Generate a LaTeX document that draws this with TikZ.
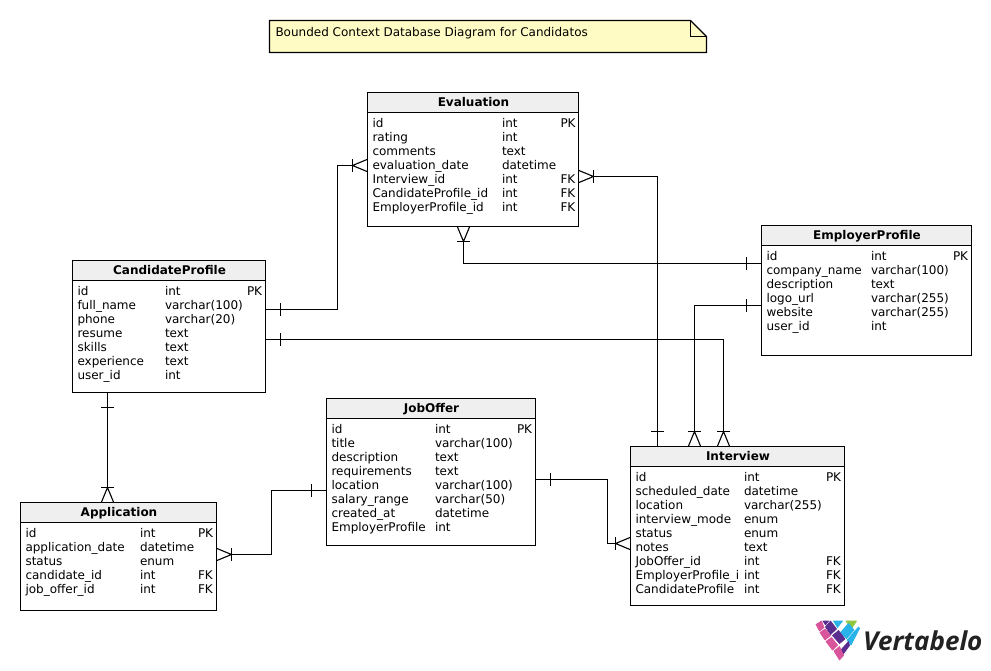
\documentclass[tikz,border=0pt]{standalone}
\usepackage{fontspec}
\setmainfont{DejaVu Sans}
\newfontfamily\logofont{Open Sans}
\usetikzlibrary{calc}
\definecolor{headfill}{HTML}{EFEFEF}
\definecolor{notefill}{HTML}{FFFBC4}
\definecolor{logopink}{HTML}{D8559B}
\definecolor{logopurple}{HTML}{5B2D8E}
\definecolor{logocyan}{HTML}{28B4E8}
\definecolor{logogreen}{HTML}{8FC73E}
\definecolor{logotext}{HTML}{222222}
\tikzset{
  conn/.style={draw=black,line width=1.1pt},
  tbody/.style={draw=black,fill=white,line width=1.1pt,anchor=north west,inner sep=0pt,outer sep=0pt},
  thead/.style={draw=black,fill=headfill,line width=1.1pt,anchor=north west,inner sep=0pt,outer sep=0pt,minimum height=20pt,text height=10pt,text depth=2pt,font=\fontsize{12}{14}\selectfont\bfseries},
  coltext/.style={anchor=north west,inner sep=0pt,outer sep=0pt,align=left,font=\fontsize{12}{14}\selectfont},
  logocell/.style={fill=#1,draw=#1,line width=0.7pt,line join=round}
}
% table: name, x, y, width, height, title
\newcommand\tbl[6]{%
  \node[tbody,minimum width=#4pt,minimum height=#5pt] (#1) at (#2,#3) {};
  \node[thead,minimum width=#4pt] (#1-head) at (#1.north west) {\hspace*{1pt}#6};
}
% column of a table: table name, column key, x offset, text
\newcommand\col[4]{%
  \node[coltext] (#1-#2) at ([shift={(#3,24.7)}]#1.north west) {\strut #4};
}
% crow's foot: edge point, outward direction dx, dy
\newcommand\crow[3]{%
  \draw[conn] ($(#1)+(6.2*#3,6.2*#2)$) -- ($(#1)+(15*#2,15*#3)$) -- ($(#1)-(6.2*#3,6.2*#2)$);
  \draw[conn] ($(#1)+(15*#2,15*#3)+(6.2*#3,6.2*#2)$) -- ($(#1)+(15*#2,15*#3)-(6.2*#3,6.2*#2)$);
}
% single bar: edge point, outward direction dx, dy
\newcommand\onebar[3]{%
  \draw[conn] ($(#1)+(15*#2,15*#3)+(6.2*#3,6.2*#2)$) -- ($(#1)+(15*#2,15*#3)-(6.2*#3,6.2*#2)$);
}
\begin{document}
\begin{tikzpicture}[x=1pt,y=-1pt]
\useasboundingbox (0,0) rectangle (991,670);
\fill[white] (0,0) rectangle (991,670);

% note
\draw[fill=notefill,line width=1.1pt] (269.5,20.5) -- (690.5,20.5) -- (706.5,36.5) -- (706.5,52.5) -- (269.5,52.5) -- cycle;
\draw[line width=1.1pt] (690.5,20.5) -- (690.5,36.5) -- (706.5,36.5);
\node[coltext,anchor=base west] (note) at (275.5,36.5) {Bounded Context Database Diagram for Candidatos};

% tables
\tbl{eval}{367.5}{92.5}{211}{134}{Evaluation}
\col{eval}{a}{5}{id\\rating\\comments\\evaluation\_date\\Interview\_id\\CandidateProfile\_id\\EmployerProfile\_id}
\col{eval}{b}{134.5}{int\\int\\text\\datetime\\int\\int\\int}
\col{eval}{c}{193}{PK\\~\\~\\~\\FK\\FK\\FK}

\tbl{cand}{72.5}{260.5}{193}{132}{CandidateProfile}
\col{cand}{a}{5}{id\\full\_name\\phone\\resume\\skills\\experience\\user\_id}
\col{cand}{b}{92.5}{int\\varchar(100)\\varchar(20)\\text\\text\\text\\int}
\col{cand}{c}{174.5}{PK}

\tbl{empl}{761.5}{225.5}{210}{130}{EmployerProfile}
\col{empl}{a}{5}{id\\company\_name\\description\\logo\_url\\website\\user\_id}
\col{empl}{b}{109.5}{int\\varchar(100)\\text\\varchar(255)\\varchar(255)\\int}
\col{empl}{c}{191.5}{PK}

\tbl{job}{326.5}{398.5}{209}{147}{JobOffer}
\col{job}{a}{5}{id\\title\\description\\requirements\\location\\salary\_range\\created\_at\\EmployerProfile}
\col{job}{b}{108.5}{int\\varchar(100)\\text\\text\\varchar(100)\\varchar(50)\\datetime\\int}
\col{job}{c}{190.5}{PK}

\tbl{intv}{630.5}{446.5}{214}{159}{Interview}
\col{intv}{a}{5}{id\\scheduled\_date\\location\\interview\_mode\\status\\notes\\JobOffer\_id\\EmployerProfile\_i\\CandidateProfile}
\col{intv}{b}{113.5}{int\\datetime\\varchar(255)\\enum\\enum\\text\\int\\int\\int}
\col{intv}{c}{195.5}{PK\\~\\~\\~\\~\\~\\FK\\FK\\FK}

\tbl{appl}{20.5}{502.5}{196}{108}{Application}
\col{appl}{a}{5}{id\\application\_date\\status\\candidate\_id\\job\_offer\_id}
\col{appl}{b}{119.5}{int\\datetime\\enum\\int\\int}
\col{appl}{c}{177.5}{PK\\~\\~\\FK\\FK}

% connectors
\coordinate (c1s) at (cand.east |- 0,309.5);
\coordinate (c1e) at (eval.west |- 0,165.5);
\draw[conn] (c1s) -- (337.5,309.5) -- (337.5,165.5) -- ($(c1e)+(-15,0)$);
\onebar{c1s}{1}{0}\crow{c1e}{-1}{0}

\coordinate (c2s) at (eval.east |- 0,176.5);
\coordinate (c2e) at (intv.north -| 657.5,0);
\draw[conn] ($(c2s)+(15,0)$) -- (657.5,176.5) -- (c2e);
\crow{c2s}{1}{0}\onebar{c2e}{0}{-1}

\coordinate (c3s) at (eval.south -| 463.5,0);
\coordinate (c3e) at (empl.west |- 0,263.5);
\draw[conn] ($(c3s)+(0,15)$) -- (463.5,263.5) -- (c3e);
\crow{c3s}{0}{1}\onebar{c3e}{-1}{0}

\coordinate (c4s) at (empl.west |- 0,305.5);
\coordinate (c4e) at (intv.north -| 694.5,0);
\draw[conn] (c4s) -- (694.5,305.5) -- ($(c4e)+(0,-15)$);
\onebar{c4s}{-1}{0}\crow{c4e}{0}{-1}

\coordinate (c5s) at (cand.east |- 0,339.5);
\coordinate (c5e) at (intv.north -| 723.5,0);
\draw[conn] (c5s) -- (723.5,339.5) -- ($(c5e)+(0,-15)$);
\onebar{c5s}{1}{0}\crow{c5e}{0}{-1}

\coordinate (c6s) at (cand.south -| 107.5,0);
\coordinate (c6e) at (appl.north -| 107.5,0);
\draw[conn] (c6s) -- ($(c6e)+(0,-15)$);
\onebar{c6s}{0}{1}\crow{c6e}{0}{-1}

\coordinate (c7s) at (job.west |- 0,490.5);
\coordinate (c7e) at (appl.east |- 0,554.5);
\draw[conn] (c7s) -- (271.5,490.5) -- (271.5,554.5) -- ($(c7e)+(15,0)$);
\onebar{c7s}{-1}{0}\crow{c7e}{1}{0}

\coordinate (c8s) at (job.east |- 0,479.5);
\coordinate (c8e) at (intv.west |- 0,543.5);
\draw[conn] (c8s) -- (607.5,479.5) -- (607.5,543.5) -- ($(c8e)+(-15,0)$);
\onebar{c8s}{1}{0}\crow{c8e}{-1}{0}

% logo
\path[logocell=logopink] (816,624.5) -- (821.5,621) -- (824,627.5) -- (819.5,631) -- cycle;
\path[logocell=logopurple] (823,621) -- (828.5,621) -- (825.5,625) -- cycle;
\path[logocell=logopurple] (825.5,627) -- (830.5,621) -- (836.5,629) -- (830.5,634.5) -- cycle;
\path[logocell=logocyan] (833.5,621) -- (842.5,621) -- (837.5,627.5) -- cycle;
\path[logocell=logogreen] (846,621) -- (856.5,621) -- (851.5,628.5) -- cycle;
\path[logocell=logocyan] (840.5,632.5) -- (848.5,623.5) -- (854,630) -- (846.5,638.5) -- cycle;
\path[logocell=logopink] (820,632.5) -- (825,629) -- (830.5,635.5) -- (825,640) -- cycle;
\path[logocell=logopurple] (832.5,635.5) -- (838.5,630.5) -- (845,639) -- (839.5,643.5) -- cycle;
\path[logocell=logocyan] (847,640) -- (858.5,627) -- (859.5,628.5) -- (851,645) -- cycle;
\path[logocell=logopink] (826,641.5) -- (831.5,637.5) -- (837.5,645) -- (832.5,650) -- cycle;
\path[logocell=logopurple] (840,651) -- (848.5,641.5) -- (849.5,645.5) -- (842.5,655) -- cycle;
\path[logocell=logopink] (834,651) -- (839.5,646.5) -- (843.5,655.5) -- (839.5,660) -- cycle;
\node[anchor=base west,inner sep=0pt,font=\logofont\fontsize{26}{26}\selectfont\bfseries\itshape,text=logotext] (logo) at (863,650) {Vertabelo};
\end{tikzpicture}
\end{document}
